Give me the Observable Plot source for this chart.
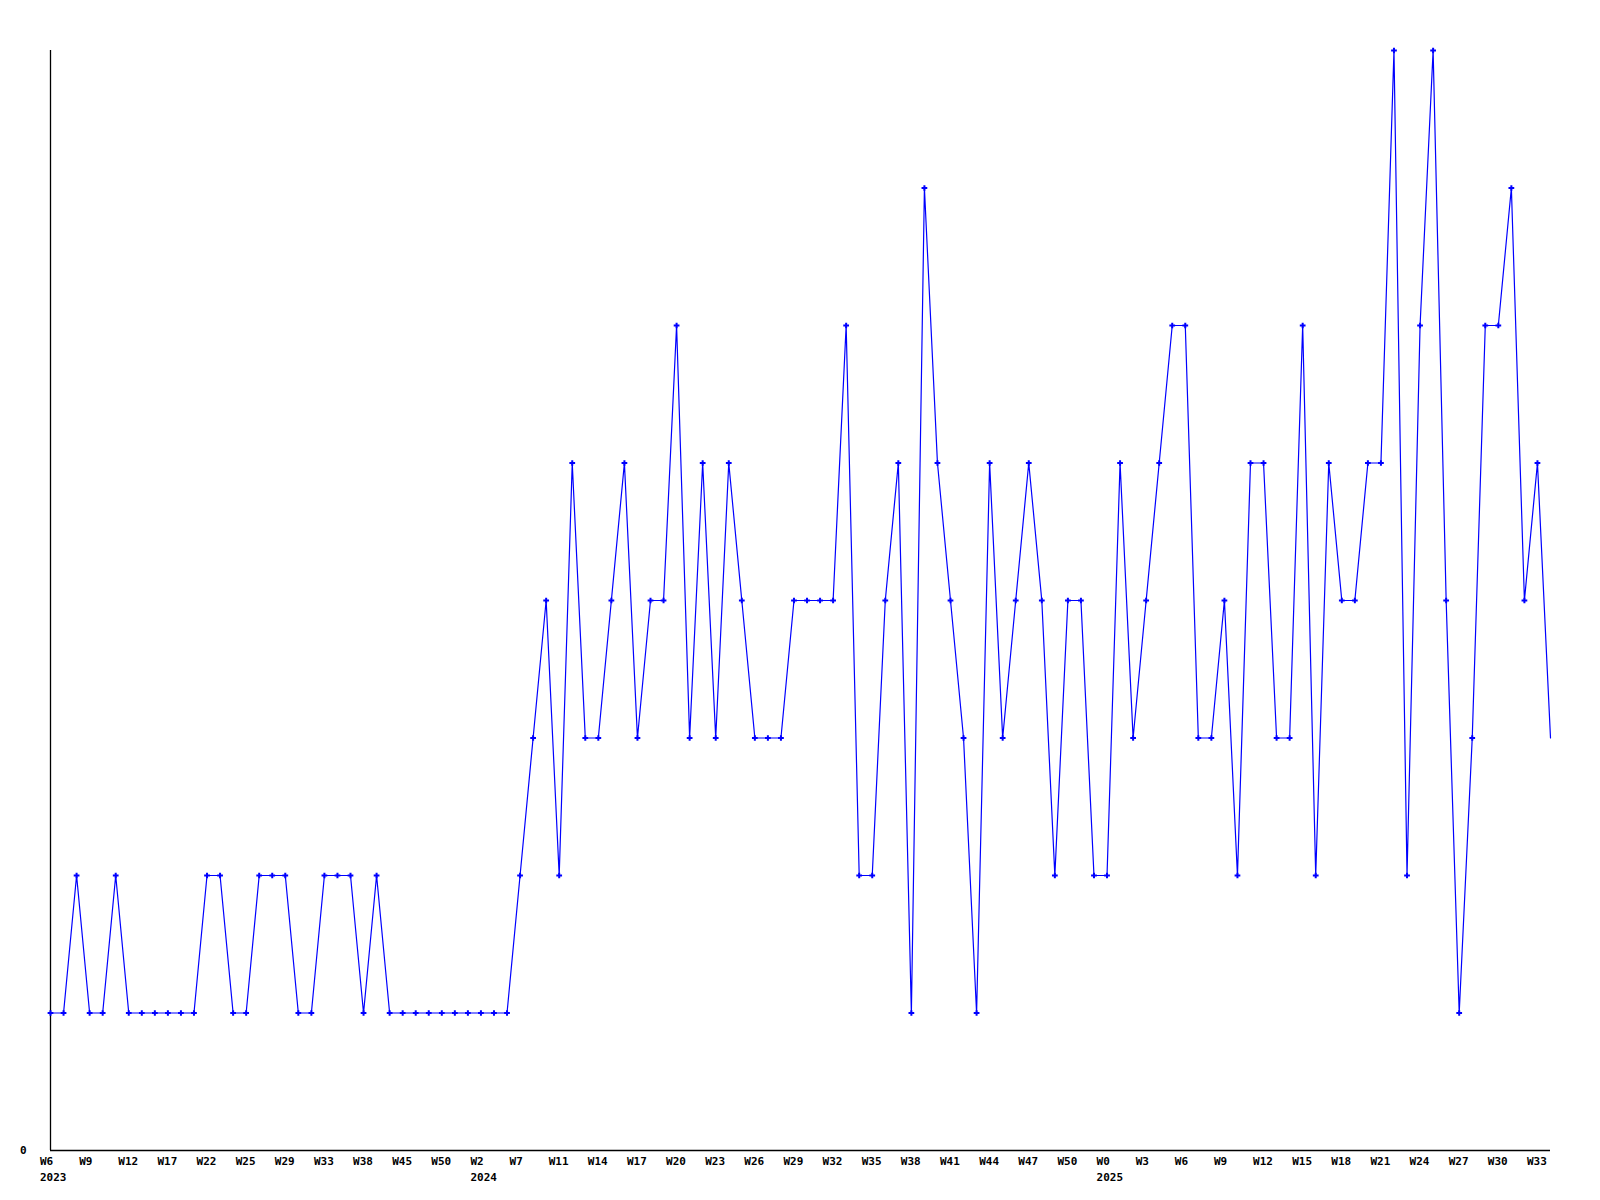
<!DOCTYPE html>
<html>
<head>
<meta charset="utf-8">
<script src="https://cdn.jsdelivr.net/npm/d3@7"></script>
<script src="https://cdn.jsdelivr.net/npm/@observablehq/plot@0.6"></script>
<style>
  html, body { margin: 0; padding: 0; background: #fff; }
  #chart svg { display: block; }
</style>
</head>
<body>
<div id="chart"></div>
<script>
// Weekly values, one per data point (ordinal positions)
const values = [
  1,1,2,1,1,2,1,1,1,1,1,1,2,2,1,1,2,2,2,1,1,2,2,2,1,2,1,1,1,1,1,1,1,1,1,1,
  2,3,4,2,5,3,3,4,5,3,4,4,6,3,5,3,5,4,3,3,3,4,4,4,4,6,2,2,4,5,1,7,5,4,3,1,
  5,3,4,5,4,2,4,4,2,2,5,3,4,5,6,6,3,3,4,2,5,5,3,3,6,2,5,4,4,5,5,8,2,6,8,4,
  1,3,6,6,7,4,5,3
];

// Week tick labels, every third data point
const weekTickIndex = d3.range(0, 115, 3);
const weekTickLabels = [
  "W6","W9","W12","W17","W22","W25","W29","W33","W38","W45","W50",
  "W2","W7","W11","W14","W17","W20","W23","W26","W29","W32","W35","W38","W41","W44","W47","W50",
  "W0","W3","W6","W9","W12","W15","W18","W21","W24","W27","W30","W33"
];

// Year labels under the first tick of each year
const yearTickIndex = [0, 33, 81];
const yearLabels = ["2023", "2024", "2025"];

const data = values.map((v, i) => ({i, v}));
const weekMap = new Map(weekTickIndex.map((t, k) => [t, weekTickLabels[k]]));
const yearMap = new Map(yearTickIndex.map((t, k) => [t, yearLabels[k]]));

const font = "'DejaVu Sans Mono', monospace";

const chart = Plot.plot({
  width: 1600,
  height: 1200,
  marginLeft: 50,
  marginRight: 50,
  marginTop: 50,
  marginBottom: 50,
  style: {fontFamily: font, fontSize: "11px", fontWeight: "bold", background: "#fff", color: "#000"},
  x: {domain: [0, values.length - 1], axis: null},
  y: {domain: [0, 8], axis: null},
  marks: [
    Plot.axisY({ticks: [0], tickSize: 0, tickPadding: 24, tickFormat: d => String(d), label: null, fontWeight: "bold"}),
    Plot.axisX({ticks: weekTickIndex, tickSize: 0, tickPadding: 7, tickFormat: d => weekMap.get(d), label: null, fontWeight: "bold", textAnchor: "start", dx: -10.5}),
    Plot.axisX({ticks: yearTickIndex, tickSize: 0, tickPadding: 23, tickFormat: d => yearMap.get(d), label: null, fontWeight: "bold", textAnchor: "start", dx: -10.5}),
    Plot.ruleY([0], {stroke: "#000", strokeWidth: 1.3}),
    Plot.ruleX([0], {stroke: "#000", strokeWidth: 1.3}),
    Plot.line(data, {x: "i", y: "v", stroke: "#0000ff", strokeWidth: 1.2}),
    Plot.dot(data.slice(0, -1), {x: "i", y: "v", symbol: "plus", r: 2, stroke: "#0000ff", strokeWidth: 2})
  ]
});

document.getElementById("chart").appendChild(chart);
</script>
</body>
</html>
